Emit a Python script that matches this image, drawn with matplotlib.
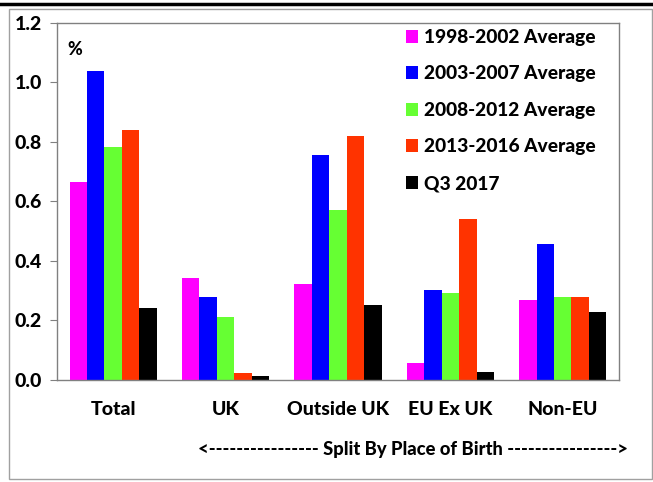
import numpy as np
import matplotlib.pyplot as plt
from matplotlib.lines import Line2D
from matplotlib.patches import Rectangle

plt.rcParams["font.family"] = ["Lato", "DejaVu Sans"]
plt.rcParams["font.weight"] = "black"

categories = ["Total", "UK", "Outside UK", "EU Ex UK", "Non-EU"]
series_names = ["1998-2002 Average", "2003-2007 Average", "2008-2012 Average",
                "2013-2016 Average", "Q3 2017"]
avg_1998_2002 = [0.664, 0.342, 0.323, 0.056, 0.269]
avg_2003_2007 = [1.039, 0.280, 0.756, 0.303, 0.456]
avg_2008_2012 = [0.783, 0.212, 0.571, 0.291, 0.279]
avg_2013_2016 = [0.839, 0.022, 0.820, 0.540, 0.279]
q3_2017 = [0.242, 0.012, 0.251, 0.026, 0.227]
yticks = [0.0, 0.2, 0.4, 0.6, 0.8, 1.0, 1.2]

series = [avg_1998_2002, avg_2003_2007, avg_2008_2012, avg_2013_2016, q3_2017]
colors = ["#FF00FF", "#0000FF", "#66FF33", "#FF3300", "#000000"]

fig = plt.figure(figsize=(6.53, 4.82), dpi=100)
ax = fig.add_axes([0.0873, 0.2116, 0.8606, 0.7413])

x = np.arange(len(categories))
w = 0.155
for k, (vals, name, color) in enumerate(zip(series, series_names, colors)):
    ax.bar(x + (k - 2) * w, vals, width=w, color=color, label=name)

ax.set_xlim(-0.5, len(categories) - 0.5)
ax.set_ylim(0, 1.2)
ax.set_yticks(yticks)
ax.set_yticklabels([f"{t:.1f}" for t in yticks], fontsize=14, fontweight="black")
ax.set_xticks(x)
ax.set_xticklabels(categories, fontsize=14, fontweight="black")
ax.tick_params(axis="x", length=0, pad=15)
ax.tick_params(axis="y", length=5, color="#808080", pad=6)
for s in ax.spines.values():
    s.set_color("#808080")
    s.set_linewidth(1.0)

ax.text(0.018, 0.91, "%", transform=ax.transAxes, fontsize=13, fontweight="black")

ax.legend(loc="upper left", bbox_to_anchor=(0.6, 1.015), frameon=False,
          prop={"size": 13.8, "weight": "black"}, handlelength=0.65,
          handleheight=0.65, handletextpad=0.3, labelspacing=1.02,
          borderaxespad=0.2)

fig.text(0.632, 0.068, "<---------------- Split By Place of Birth ---------------->",
         ha="center", va="center", fontsize=13.2, fontweight="black")

# outer frame and top rule
fig.add_artist(Rectangle((9 / 653, 3 / 482), 643 / 653, 470 / 482,
                         transform=fig.transFigure, fill=False,
                         edgecolor="#A0A0A0", linewidth=1.0))
fig.add_artist(Line2D([0, 1], [1 - 4 / 482, 1 - 4 / 482],
                      transform=fig.transFigure, color="black", linewidth=2.5))

fig.savefig("out.png", dpi=100)
